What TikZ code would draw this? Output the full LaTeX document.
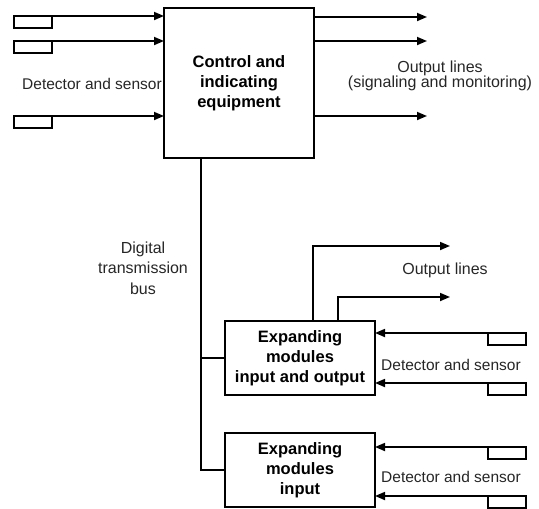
\documentclass[tikz,border=0pt]{standalone}
\usepackage{fontspec}
\setmainfont{Liberation Sans}
\usetikzlibrary{arrows.meta}
\begin{document}
\begin{tikzpicture}[x=1pt,y=-1pt,
  line width=1.7pt,
  every node/.style={inner sep=0pt,outer sep=0pt},
  blk/.style={draw,line width=1.7pt,font=\fontsize{16.5}{20}\selectfont\bfseries,align=center,minimum width=150pt},
  sens/.style={draw,line width=1.5pt,minimum width=38pt,minimum height=12pt,anchor=north west},
  lbl/.style={font=\fontsize{15.5}{20}\selectfont,align=center,text=black!85},
  arr/.style={-{Triangle[length=10pt,width=8pt]}}]
\useasboundingbox (0,0) rectangle (539,509);
% main box
\node[blk,minimum height=150pt] (main) at (239,83) {Control and\\indicating\\equipment};
\node[blk,minimum height=74pt] (exio) at (300,358) {Expanding\\modules\\input and output};
\node[blk,minimum height=74pt] (exin) at (300,470) {Expanding\\modules\\input};
% left sensors
\node[sens] (s1) at (14,16) {};
\node[sens] (s2) at (14,41) {};
\node[sens] (s3) at (14,116) {};
\foreach \s in {s1,s2,s3} \draw[arr] (\s.north east) -- (\s.north east -| main.west);
\node[lbl] (ldet) at (92,84) {Detector and sensor};
% main outputs
\coordinate (o1) at (427,17);
\coordinate (o2) at (427,41);
\coordinate (o3) at (427,116);
\foreach \o in {o1,o2,o3} \draw[arr] (\o -| main.east) -- (\o);
\node[lbl,font=\fontsize{16}{15.5}\selectfont] (lout) at (440,76) {Output lines\\(signaling and monitoring)};
% bus
\coordinate (bt) at (201,158);
\coordinate (bb) at (201,470);
\draw (bt |- main.south) -- (bb) -- (exin.west);
\draw (bt |- exio.west) -- (exio.west);
\node[lbl,font=\fontsize{16}{20.5}\selectfont] (lbus) at (143,268) {Digital\\transmission\\bus};
% exio outputs
\coordinate (p1) at (450,246);
\coordinate (p2) at (450,297);
\draw[arr] (313,0 |- exio.north) -- (313,246) -- (p1);
\draw[arr] (338,0 |- exio.north) -- (338,297) -- (p2);
\node[lbl,font=\fontsize{16}{20}\selectfont] (lout2) at (445,270) {Output lines};
% right sensors
\node[sens] (r1) at (488,333) {};
\node[sens] (r2) at (488,383) {};
\node[sens] (r3) at (488,447) {};
\node[sens] (r4) at (488,496) {};
\draw[arr] (r1.north west) -- (r1.north west -| exio.east);
\draw[arr] (r2.north west) -- (r2.north west -| exio.east);
\draw[arr] (r3.north west) -- (r3.north west -| exin.east);
\draw[arr] (r4.north west) -- (r4.north west -| exin.east);
\node[lbl] (ldet2) at (451,365) {Detector and sensor};
\node[lbl] (ldet3) at (451,477) {Detector and sensor};
\end{tikzpicture}
\end{document}
